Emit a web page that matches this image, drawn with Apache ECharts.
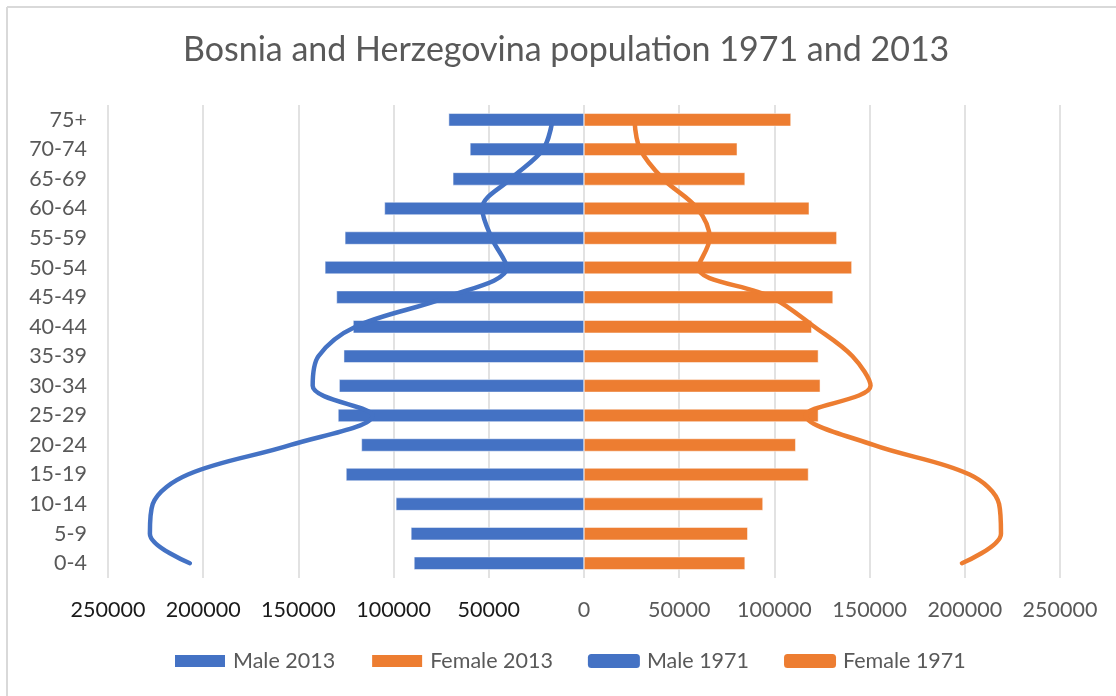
<!DOCTYPE html>
<html>
<head>
<meta charset="utf-8">
<script src="https://cdn.jsdelivr.net/npm/echarts@6/dist/echarts.min.js"></script>
<style>html,body{margin:0;padding:0;background:#fff}#c{width:1116px;height:696px}</style>
</head>
<body>
<div id="c"></div>
<script>
const categories = ['0-4','5-9','10-14','15-19','20-24','25-29','30-34','35-39','40-44','45-49','50-54','55-59','60-64','65-69','70-74','75+'];
const male2013 = [89300, 90900, 98800, 125000, 116900, 129200, 128600, 126200, 121300, 130000, 136100, 125600, 104800, 68900, 59900, 71100];
const female2013 = [84600, 86000, 94000, 117900, 111200, 123100, 124100, 123100, 119600, 130800, 140700, 132800, 118300, 84600, 80500, 108700];
const male1971 = [207000, 228000, 226500, 208000, 154000, 111000, 142500, 139500, 120000, 72000, 40500, 48500, 53500, 38500, 21500, 16500];
const female1971 = [198500, 219000, 218000, 202500, 152000, 116400, 150500, 141000, 121000, 98500, 60000, 66000, 59500, 41500, 29500, 26500];
const xTicks = [-250000, -200000, -150000, -100000, -50000, 0, 50000, 100000, 150000, 200000, 250000];

const FONT = 'Lato, "Noto Sans", sans-serif';
const BLUE = '#4472C4', ORANGE = '#ED7D31';
const chart = echarts.init(document.getElementById('c'), null, {renderer: 'canvas'});
chart.setOption({
  animation: false,
  backgroundColor: '#fff',
  textStyle: {fontFamily: FONT},
  title: {
    text: 'Bosnia and Herzegovina population 1971 and 2013',
    left: 178, top: 28,
    textStyle: {fontFamily: FONT, fontSize: 34, fontWeight: 'normal', color: '#595959'}
  },
  graphic: [
    {type: 'line', shape: {x1: 7, y1: 7, x2: 1116, y2: 7}, style: {stroke: '#D9D9D9', lineWidth: 2}, silent: true},
    {type: 'line', shape: {x1: 7, y1: 7, x2: 7, y2: 696}, style: {stroke: '#D9D9D9', lineWidth: 2}, silent: true}
  ],
  legend: {
    bottom: 19, left: 168,
    itemWidth: 52, itemHeight: 14, itemGap: 35,
    textStyle: {fontFamily: FONT, fontSize: 21.5, color: '#595959', padding: [0, 0, 0, 2]},
    data: [
      {name: 'Male 2013', icon: 'rect'},
      {name: 'Female 2013', icon: 'rect'},
      {name: 'Male 1971', icon: 'roundRect'},
      {name: 'Female 1971', icon: 'roundRect'}
    ]
  },
  grid: {left: 108, right: 56, top: 105, bottom: 118, containLabel: false},
  xAxis: {
    type: 'value', min: -250000, max: 250000, interval: 50000,
    axisLine: {show: false}, axisTick: {show: false},
    splitLine: {show: true, lineStyle: {color: '#D9D9D9', width: 1.5}},
    axisLabel: {
      margin: 21, fontSize: 21.5, fontFamily: FONT,
      formatter: v => v < 0 ? '{n|' + Math.abs(v) + '}' : '{p|' + v + '}',
      rich: {
        n: {fontSize: 21.5, fontFamily: FONT, color: '#1a1a1a'},
        p: {fontSize: 21.5, fontFamily: FONT, color: '#595959'}
      }
    }
  },
  yAxis: {
    type: 'category', data: categories,
    axisLine: {show: false, onZero: false}, axisTick: {show: false},
    axisLabel: {margin: 21, fontSize: 21.5, fontFamily: FONT, color: '#595959'}
  },
  series: [
    {name: 'Male 2013', type: 'bar', barWidth: 13, barGap: '-100%',
     itemStyle: {color: BLUE, borderColor: '#fff', borderWidth: 0.5},
     data: male2013.map(v => -v)},
    {name: 'Female 2013', type: 'bar', barWidth: 13, barGap: '-100%',
     itemStyle: {color: ORANGE, borderColor: '#fff', borderWidth: 0.5},
     data: female2013},
    {name: 'Male 1971', type: 'line', smooth: 0.35, symbol: 'none',
     lineStyle: {color: BLUE, width: 4.5, cap: 'round'}, itemStyle: {color: BLUE},
     data: male1971.map(v => -v)},
    {name: 'Female 1971', type: 'line', smooth: 0.35, symbol: 'none',
     lineStyle: {color: ORANGE, width: 4.5, cap: 'round'}, itemStyle: {color: ORANGE},
     data: female1971}
  ]
});
</script>
</body>
</html>
